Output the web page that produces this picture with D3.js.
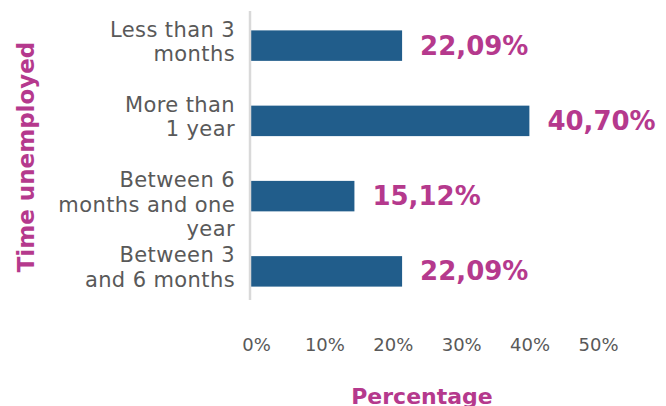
<!DOCTYPE html>
<html>
<head>
<meta charset="utf-8">
<script src="https://cdn.jsdelivr.net/npm/d3@7"></script>
<style>
  html, body { margin: 0; padding: 0; background: #ffffff; }
  svg { display: block; }
</style>
</head>
<body>
<div id="chart"></div>
<script>
// Time spent unemployed, share of respondents (%)
const categories = [
  "Less than 3 months",
  "More than 1 year",
  "Between 6 months and one year",
  "Between 3 and 6 months"
];
// Wrapped lines used for the category axis labels
const categoryLines = [
  ["Less than 3", "months"],
  ["More than", "1 year"],
  ["Between 6", "months and one", "year"],
  ["Between 3", "and 6 months"]
];
const values = [22.09, 40.70, 15.12, 22.09];
const valueLabels = ["22,09%", "40,70%", "15,12%", "22,09%"];
const xTicks = [0, 10, 20, 30, 40, 50];
const xTickLabels = ["0%", "10%", "20%", "30%", "40%", "50%"];
const xTitle = "Percentage";
const yTitle = "Time unemployed";

const W = 666, H = 406;
const BAR = "#215d8b";
const ACCENT = "#b5398d";
const GREY_TEXT = "#595959";
const FONT = "'DejaVu Sans', sans-serif";

const svg = d3.select("#chart").append("svg")
  .attr("width", W).attr("height", H);

const x = d3.scaleLinear().domain([0, 50]).range([251, 593]);
const y = d3.scaleBand().domain(categories).range([8, 309])
  .paddingInner(0.595).paddingOuter(0.2975);

// Bars
svg.append("g").selectAll("rect")
  .data(categories)
  .join("rect")
  .attr("x", x(0))
  .attr("y", d => y(d))
  .attr("width", (d, i) => x(values[i]) - x(0))
  .attr("height", y.bandwidth())
  .attr("fill", BAR);

// Vertical category axis line
svg.append("line")
  .attr("x1", 250).attr("x2", 250)
  .attr("y1", 11).attr("y2", 300)
  .attr("stroke", "#d9d9d9").attr("stroke-width", 2.5);

// Category labels, right-aligned, wrapped
const catG = svg.append("g");
categories.forEach((c, i) => {
  const cy = y(c) + y.bandwidth() / 2;
  const t = catG.append("text")
    .attr("text-anchor", "end")
    .attr("font-family", FONT)
    .attr("font-size", 21)
    .attr("letter-spacing", 0.4)
    .attr("fill", GREY_TEXT);
  categoryLines[i].forEach((line, k) => {
    t.append("tspan")
      .attr("x", 235)
      .attr("y", cy - 9 + k * 24.5)
      .text(line);
  });
});

// Value labels
svg.append("g").selectAll("text")
  .data(categories)
  .join("text")
  .attr("x", (d, i) => x(values[i]) + 18)
  .attr("y", d => y(d) + y.bandwidth() / 2 + 9)
  .attr("font-family", FONT)
  .attr("font-weight", "bold")
  .attr("font-size", 26)
  .attr("fill", ACCENT)
  .text((d, i) => valueLabels[i]);

// X axis tick labels (no axis line)
const xAxis = d3.axisBottom(x)
  .tickValues(xTicks)
  .tickFormat((d, i) => xTickLabels[i])
  .tickSize(0)
  .tickPadding(0);
const gx = svg.append("g")
  .attr("transform", "translate(5, 351)")
  .call(xAxis);
gx.select(".domain").remove();
gx.selectAll("text")
  .attr("dy", 0)
  .attr("font-family", FONT)
  .attr("font-size", 18)
  .attr("fill", GREY_TEXT);

// Axis titles
svg.append("text")
  .attr("x", (x(0) + x(50)) / 2)
  .attr("y", 404)
  .attr("text-anchor", "middle")
  .attr("font-family", FONT)
  .attr("font-weight", "bold")
  .attr("font-size", 22)
  .attr("fill", ACCENT)
  .text(xTitle);

svg.append("text")
  .attr("transform", "translate(34, 157) rotate(-90)")
  .attr("text-anchor", "middle")
  .attr("font-family", FONT)
  .attr("font-weight", "bold")
  .attr("font-size", 23)
  .attr("fill", ACCENT)
  .text(yTitle);
</script>
</body>
</html>
